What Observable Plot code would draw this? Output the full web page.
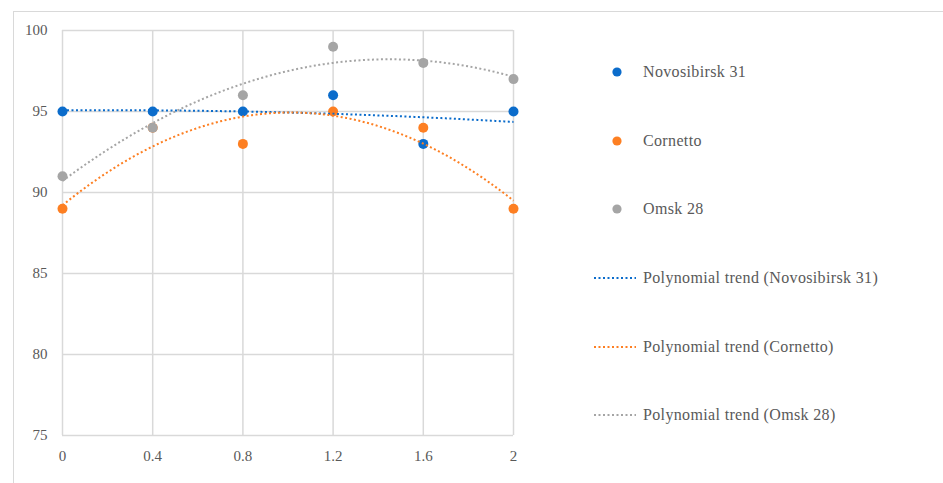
<!DOCTYPE html>
<html>
<head>
<meta charset="utf-8">
<script src="https://cdn.jsdelivr.net/npm/d3@7"></script>
<script src="https://cdn.jsdelivr.net/npm/@observablehq/plot@0.6"></script>
<style>
  html, body { margin: 0; padding: 0; background: #fff; }
  #wrap { position: relative; width: 943px; height: 483px; overflow: hidden; background: #fff;
          font-family: "Liberation Serif", serif; color: #595959; }
  #frame { position: absolute; left: 13px; top: 11px; width: 940px; height: 480px;
           border-left: 1.5px solid #d9d9d9; border-top: 1.5px solid #d9d9d9; box-sizing: border-box; }
  #chart { position: absolute; left: 0; top: 0; }
  #legend { position: absolute; left: 0; top: 0; width: 943px; height: 483px; pointer-events: none; }
  .item { position: absolute; left: 592px; height: 20px; display: flex; align-items: center; font-size: 16px; letter-spacing: 0.35px; }
  .item svg { width: 46px; height: 20px; flex: none; }
  .item span { margin-left: 5px; white-space: nowrap; }
</style>
</head>
<body>
<div id="wrap">
  <div id="frame"></div>
  <div id="chart"></div>
  <div id="legend"></div>
</div>
<script>
// ---- data ----
const xValues = [0, 0.4, 0.8, 1.2, 1.6, 2];
const seriesNames = ["Novosibirsk 31", "Cornetto", "Omsk 28"];
const novosibirsk = [95, 95, 95, 96, 93, 95];
const cornetto = [89, 94, 93, 95, 94, 89];
const omsk = [91, 94, 96, 99, 98, 97];
const xTicks = [0, 0.4, 0.8, 1.2, 1.6, 2];
const yTicks = [75, 80, 85, 90, 95, 100];
const colors = ["#0b6ccb", "#fd7f22", "#a5a5a5"];
const trendLabels = ["Polynomial trend (Novosibirsk 31)", "Polynomial trend (Cornetto)", "Polynomial trend (Omsk 28)"];

const seriesValues = [novosibirsk, cornetto, omsk];

// least-squares quadratic fit (as a spreadsheet polynomial trendline, order 2)
function polyfit2(xs, ys) {
  const n = xs.length;
  const S = k => d3.sum(xs, x => x ** k);
  const T = k => d3.sum(xs, (x, i) => x ** k * ys[i]);
  const A = [[n, S(1), S(2), T(0)], [S(1), S(2), S(3), T(1)], [S(2), S(3), S(4), T(2)]];
  for (let c = 0; c < 3; c++) {
    for (let r = c + 1; r < 3; r++) {
      const f = A[r][c] / A[c][c];
      for (let k = c; k < 4; k++) A[r][k] -= f * A[c][k];
    }
  }
  const coef = [0, 0, 0];
  for (let r = 2; r >= 0; r--) {
    let s = A[r][3];
    for (let k = r + 1; k < 3; k++) s -= A[r][k] * coef[k];
    coef[r] = s / A[r][r];
  }
  return x => coef[0] + coef[1] * x + coef[2] * x * x;
}

const points = [];
seriesValues.forEach((vals, s) => vals.forEach((v, i) => points.push({x: xValues[i], y: v, series: seriesNames[s]})));

const trend = [];
const xs = d3.range(0, 2.0001, 0.02);
seriesValues.forEach((vals, s) => {
  const f = polyfit2(xValues, vals);
  xs.forEach(x => trend.push({x, y: f(x), series: seriesNames[s]}));
});

const colorScale = {domain: seriesNames, range: colors};

const plot = Plot.plot({
  width: 943,
  height: 483,
  marginLeft: 62,
  marginRight: 430,
  marginTop: 30,
  marginBottom: 48,
  style: {fontFamily: "'Liberation Serif', serif", fontSize: "15px", color: "#595959", background: "transparent"},
  x: {domain: [0, 2], ticks: xTicks, tickSize: 0, tickPadding: 15, label: null, tickFormat: d => String(d)},
  y: {domain: [75, 100], ticks: yTicks, tickSize: 0, tickPadding: 15, label: null},
  color: colorScale,
  marks: [
    Plot.gridX(xTicks, {stroke: "#d9d9d9", strokeOpacity: 1, strokeWidth: 1.5}),
    Plot.gridY(yTicks, {stroke: "#d9d9d9", strokeOpacity: 1, strokeWidth: 1.5}),
    Plot.axisX({ticks: xTicks, tickSize: 0, tickPadding: 15, tickFormat: d => String(d), fill: "#595959", label: null}),
    Plot.axisY({ticks: yTicks, tickSize: 0, tickPadding: 15, fill: "#595959", label: null}),
    Plot.dot(points, {x: "x", y: "y", fill: "series", r: 5, stroke: "none"}),
    Plot.line(trend, {x: "x", y: "y", stroke: "series", z: "series", strokeWidth: 2, strokeDasharray: "2,2.5", strokeLinecap: "butt", strokeLinejoin: "miter", curve: "linear"})
  ]
});
document.getElementById("chart").appendChild(plot);

// legend
const legend = document.getElementById("legend");
const rowY = [72, 141, 209, 278, 347, 415];
const entries = [
  ...seriesNames.map((n, i) => ({type: "dot", color: colors[i], label: n})),
  ...trendLabels.map((n, i) => ({type: "line", color: colors[i], label: n}))
];
entries.forEach((e, i) => {
  const div = document.createElement("div");
  div.className = "item";
  div.style.top = (rowY[i] - 10) + "px";
  const sw = e.type === "dot"
    ? `<svg viewBox="0 0 46 20"><circle cx="25" cy="10" r="4.6" fill="${e.color}"/></svg>`
    : `<svg viewBox="0 0 46 20"><line x1="2" y1="10" x2="44" y2="10" stroke="${e.color}" stroke-width="2" stroke-dasharray="2,2.5"/></svg>`;
  div.innerHTML = sw + `<span>${e.label}</span>`;
  legend.appendChild(div);
});
</script>
</body>
</html>
